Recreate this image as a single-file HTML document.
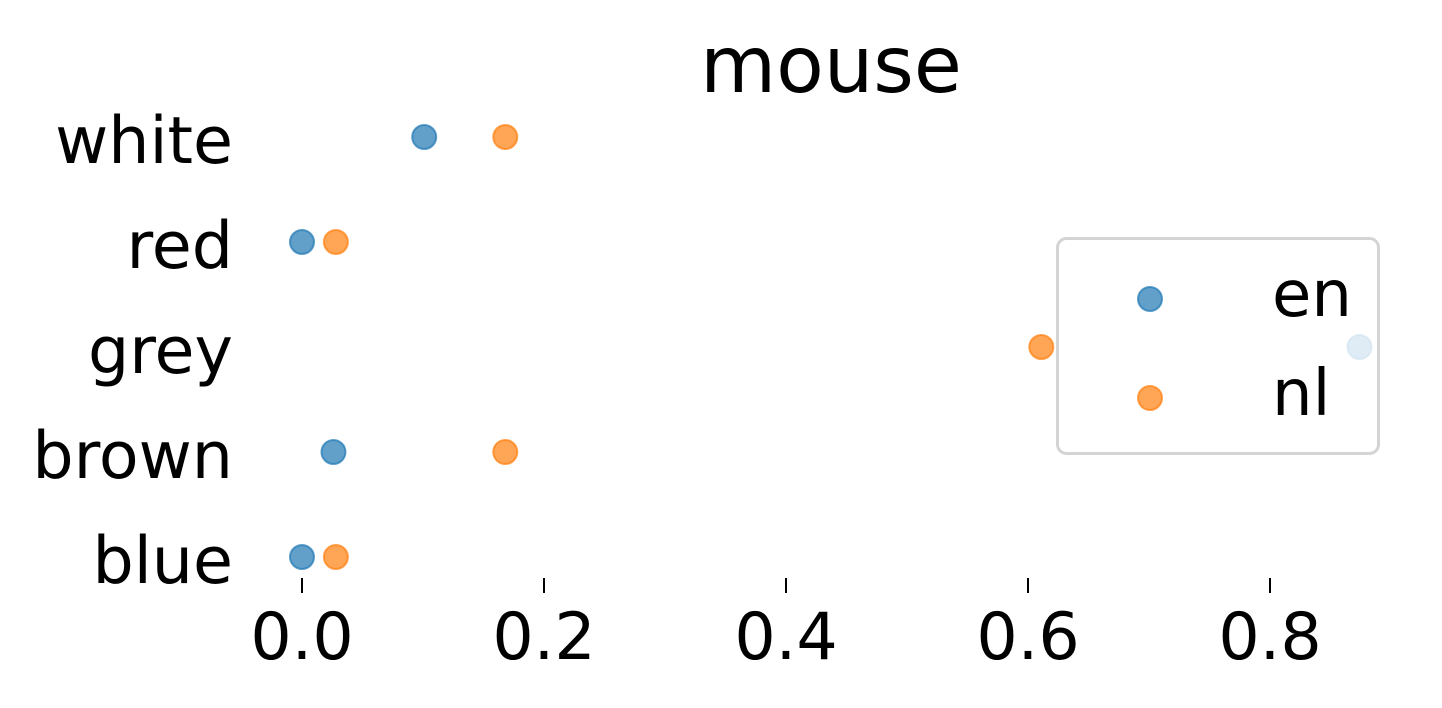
<!DOCTYPE html>
<html><head><meta charset="utf-8"><style>
body{margin:0;background:#fff}
svg text{font-family:"DejaVu Sans","Liberation Sans",sans-serif;fill:#000}
</style></head><body>
<svg width="1442" height="703" viewBox="0 0 1442 703">
<text x="831" y="92" font-size="78" text-anchor="middle">mouse</text>
<g id="yl"></g><g id="xt"></g><g id="pts"></g>
<g>
<rect x="1057.5" y="238.5" width="321" height="215" rx="9" fill="#fff" fill-opacity="0.8" stroke="#d4d4d4" stroke-width="3"/>
<circle cx="1150" cy="299" r="12" fill="#1f77b4" fill-opacity="0.7" stroke="#1f77b4" stroke-opacity="0.7" stroke-width="2"/>
<text x="1272" y="316" font-size="64">en</text>
<circle cx="1150" cy="398" r="12" fill="#ff7f0e" fill-opacity="0.7" stroke="#ff7f0e" stroke-opacity="0.7" stroke-width="2"/>
<text x="1272" y="415" font-size="64">nl</text>
</g>
</svg>
<script>
const categories=["white","red","grey","brown","blue"];
const enValues=[0.101,0.0,0.874,0.026,0.0];
const nlValues=[0.168,0.028,0.611,0.168,0.028];
const xTicks=[0,0.2,0.4,0.6,0.8];
const xTickLabels=["0.0","0.2","0.4","0.6","0.8"];
const NS="http://www.w3.org/2000/svg";
function xs(v){return 302+v*1210;}
function ys(i){return 137+i*105;}
function mk(tag,attrs,parent){const e=document.createElementNS(NS,tag);for(const k in attrs)e.setAttribute(k,attrs[k]);document.getElementById(parent).appendChild(e);return e;}
categories.forEach((c,i)=>{
 const t=mk("text",{x:233,y:ys(i)+26,"font-size":65,"text-anchor":"end"},"yl");
 t.textContent=c;
 
 
});
xTicks.forEach((v,i)=>{
 const l=mk("line",{x1:xs(v),x2:xs(v),y1:578,y2:593,stroke:"#000","stroke-width":2},"xt");
 
 
 const t=mk("text",{x:xs(v),y:659,"font-size":65,"text-anchor":"middle"},"xt");
 t.textContent=xTickLabels[i];
 
 
});
[[enValues,"#1f77b4","en"],[nlValues,"#ff7f0e","nl"]].forEach(([vals,col,nm])=>{
 vals.forEach((v,i)=>{
  const c=mk("circle",{cx:xs(v),cy:ys(i),r:12,fill:col,"fill-opacity":0.7,stroke:col,"stroke-opacity":0.7,"stroke-width":2},"pts");
  
  
 });
});
</script>
</body></html>
